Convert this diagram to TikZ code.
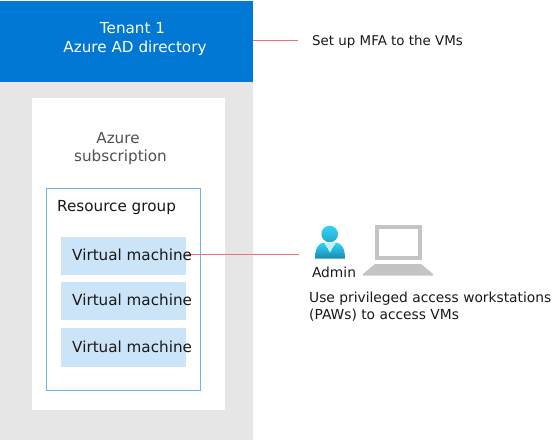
\documentclass[tikz,border=0pt]{standalone}
\usepackage{fontspec}
\setmainfont{DejaVu Sans}
\definecolor{azblue}{HTML}{0078D4}
\definecolor{panelgray}{HTML}{E6E6E6}
\definecolor{vmblue}{HTML}{CCE4F7}
\definecolor{rgline}{HTML}{6DB4EC}
\definecolor{redline}{HTML}{F07070}
\definecolor{lapgray}{HTML}{C4C4C4}
\definecolor{subgray}{HTML}{505050}
\definecolor{iconlight}{HTML}{32D4F5}
\definecolor{icondark}{HTML}{198AB3}
\definecolor{iconv}{HTML}{C3F1FF}
\tikzset{
  x=1pt,y=-1pt,
  box/.style={anchor=north west,inner sep=0pt,outer sep=0pt},
  lbl/.style={inner sep=0pt,font=\fontsize{15.2}{18}\selectfont,align=left,text=black!90},
  small/.style={font=\fontsize{13.8}{17}\selectfont},
  vmbox/.style={box,fill=vmblue,minimum width=125pt,minimum height=38pt},
  link/.style={draw=redline,line width=1pt},
}
\begin{document}
\begin{tikzpicture}
\useasboundingbox (0,0) rectangle (557,440);
\node[box,fill=panelgray,minimum width=253pt,minimum height=439pt] (panel) at (0,1) {};
\node[box,fill=azblue,minimum width=253pt,minimum height=81pt] (tenant) at (0,1) {};
\node[box,fill=white,minimum width=193pt,minimum height=312pt] (sub) at (32,98) {};
\node[box,draw=rgline,line width=0.8pt,fill=white,minimum width=154pt,minimum height=202pt] (rg) at (46.5,188.5) {};
\node[vmbox] (vm1) at (61,237) {};
\node[vmbox] (vm2) at (61,282) {};
\node[vmbox,minimum height=39pt] (vm3) at (61,328) {};
\coordinate (mfaend) at (298,40);
\coordinate (adminend) at (299,254);
\coordinate (tenantr) at (253,40);
\coordinate (vmr) at (186,254);
\draw[link] (tenantr) -- (mfaend);
\draw[link] (vmr) -- (adminend);
\node[lbl,anchor=base,text=white] (t1a) at (132.5,33.5) {Tenant 1};
\node[lbl,anchor=base,text=white] (t1b) at (135,52) {Azure AD directory};
\node[lbl,anchor=base,text=subgray] (t2a) at (118,143) {Azure};
\node[lbl,anchor=base,text=subgray] (t2b) at (120.5,161) {subscription};
\node[lbl,anchor=west] (t3) at (57,208) {Resource group};
\node[lbl,anchor=west] (v1) at (72,254.5) {Virtual machine};
\node[lbl,anchor=west] (v2) at (72,300) {Virtual machine};
\node[lbl,anchor=west] (v3) at (72,347) {Virtual machine};
\node[lbl,anchor=west,font=\fontsize{13.4}{17}\selectfont] (mfa) at (312,42) {Set up MFA to the VMs};
\node[lbl,anchor=center,small] (admin) at (334,272.5) {Admin};
\node[lbl,anchor=north west,small] (paw) at (309,292) {Use privileged access workstations\\(PAWs) to access VMs};
% admin icon
\shade[top color=iconlight,bottom color=icondark!60!iconlight] (329.7,234) circle (8.3);
\shade[top color=iconlight,bottom color=icondark]
  (315,258.5) .. controls (315,249) and (318,243) .. (324,242.5) -- (330,252) -- (336,242.5)
  .. controls (342,243) and (345,249) .. (345,258.5) -- cycle;
\fill[iconv] (325,243) -- (335,243) -- (330,252.5) -- cycle;
% laptop
\draw[lapgray,line width=4pt] (377,227) rectangle (420,258);
\fill[lapgray] (375,264) -- (421,264) -- (433,274) -- (433,275.5) -- (363,275.5) -- (363,274) -- cycle;
\end{tikzpicture}
\end{document}
